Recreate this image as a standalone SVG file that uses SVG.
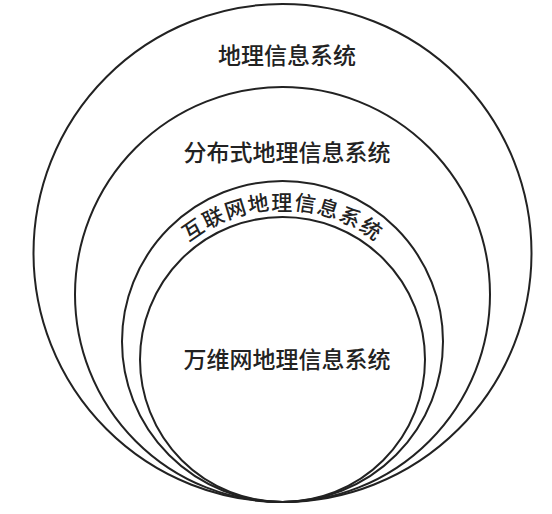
<svg xmlns="http://www.w3.org/2000/svg" width="552" height="514" viewBox="0 0 552 514">
<style>
.c{fill:none;stroke:#222;stroke-width:2}
.t{font-family:"Noto Sans CJK SC","Noto Sans",sans-serif;font-size:23px;font-weight:500;fill:#222;text-anchor:middle}
</style>
<defs>
<path id="arc" d="M132.5,359.5 A150,150 0 0 1 432.5,359.5"/>
</defs>
<rect width="552" height="514" fill="#fff"/>
<g id="gis">
<circle class="c" cx="282.5" cy="253" r="249"/>
<text class="t" x="287" y="64">地理信息系统</text>
</g>
<g id="distributed-gis">
<circle class="c" cx="282.5" cy="294.5" r="207.5"/>
<text class="t" x="287" y="161">分布式地理信息系统</text>
</g>
<g id="internet-gis">
<circle class="c" cx="282.5" cy="341.5" r="160.5"/>
<text class="t" style="font-size:21px;letter-spacing:1.5px"><textPath href="#arc" startOffset="50%">互联网地理信息系统</textPath></text>
</g>
<g id="web-gis">
<circle class="c" cx="282.5" cy="359.5" r="142.5"/>
<text class="t" x="287" y="368">万维网地理信息系统</text>
</g>
<g id="connectors"/>
</svg>
